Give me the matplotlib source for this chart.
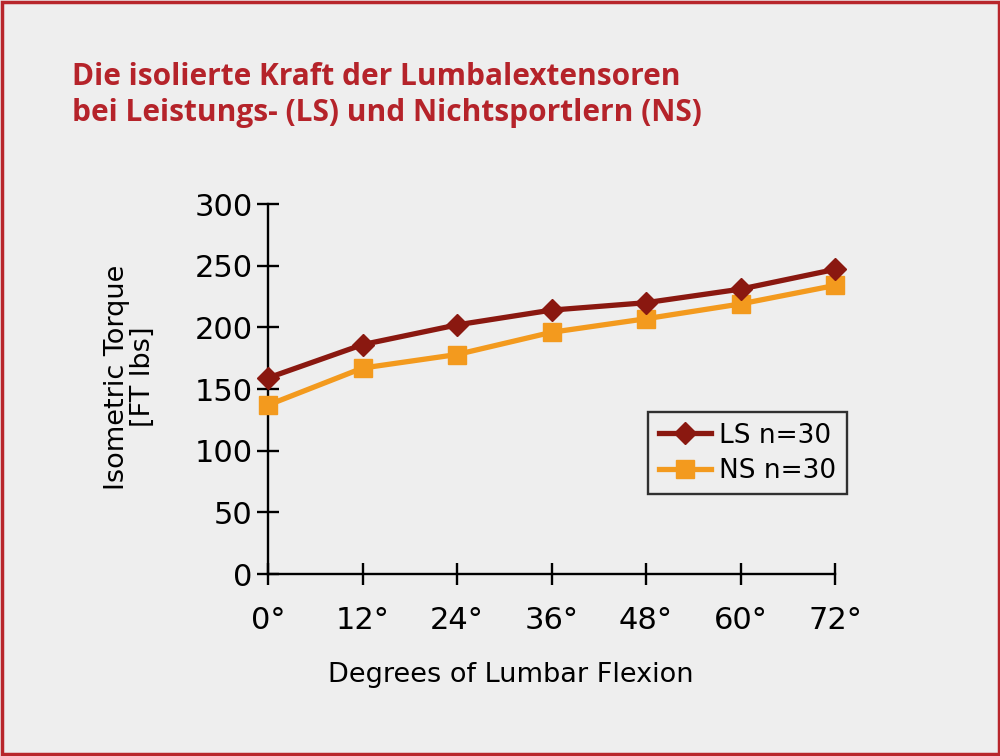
import matplotlib.pyplot as plt
from matplotlib.patches import Rectangle

degrees = [0, 12, 24, 36, 48, 60, 72]
tick_labels = ['0°', '12°', '24°', '36°', '48°', '60°', '72°']
ls_values = [159, 186, 202, 214, 220, 231, 247]
ns_values = [137, 167, 178, 196, 207, 219, 234]

plt.rcParams['font.family'] = ['DejaVu Sans']

bg = '#eeeeee'
fig = plt.figure(figsize=(10, 7.56), dpi=100, facecolor=bg)
fig.patches.append(Rectangle((0.0015, 0.002), 0.997, 0.996, transform=fig.transFigure,
                             fill=False, edgecolor='#b8262b', linewidth=2.5))

ax = fig.add_axes([0.268, 0.2407, 0.567, 0.4894])
ax.set_facecolor(bg)

ax.plot(degrees, ls_values, color='#8a1810', linewidth=3.8, marker='D',
        markersize=11, label='LS n=30', clip_on=False, zorder=4)
ax.plot(degrees, ns_values, color='#f39a1e', linewidth=3.8, marker='s',
        markersize=13, label='NS n=30', clip_on=False, zorder=3)

ax.set_xlim(0, 72)
ax.set_ylim(0, 300)
ax.set_xticks(degrees)
ax.set_xticklabels(tick_labels)
ax.set_yticks(range(0, 301, 50))
for s in ['top', 'right']:
    ax.spines[s].set_visible(False)
for s in ['left', 'bottom']:
    ax.spines[s].set_linewidth(1.7)
ax.tick_params(axis='both', direction='inout', length=16, width=1.7,
               labelsize=22)
ax.tick_params(axis='x', pad=15)
ax.tick_params(axis='y', pad=3)

# axis titles placed by hand, they are not centred on the axes
fig.text(0.511, 1 - 675 / 756, 'Degrees of Lumbar Flexion', fontsize=19.5,
         ha='center', va='center')
fig.text(0.130, 1 - 377 / 756, 'Isometric Torque\n[FT lbs]', fontsize=19.5,
         ha='center', va='center', rotation=90, linespacing=1.0)

leg = fig.legend(loc='upper left', bbox_to_anchor=(0.648, 0.455), fontsize=19,
                 frameon=True, fancybox=False, edgecolor='black',
                 facecolor=bg, handlelength=2.0, handletextpad=0.3,
                 borderpad=0.4, labelspacing=0.35, borderaxespad=0)
leg.get_frame().set_linewidth(1.7)

fig.text(0.072, 0.918, 'Die isolierte Kraft der Lumbalextensoren\nbei Leistungs- (LS) und Nichtsportlern (NS)',
         color='#b5232a', fontsize=21.5, fontweight='bold', va='top', ha='left',
         linespacing=1.25, family=['Open Sans', 'DejaVu Sans'])

fig.savefig('out.png', dpi=100, facecolor=bg)
